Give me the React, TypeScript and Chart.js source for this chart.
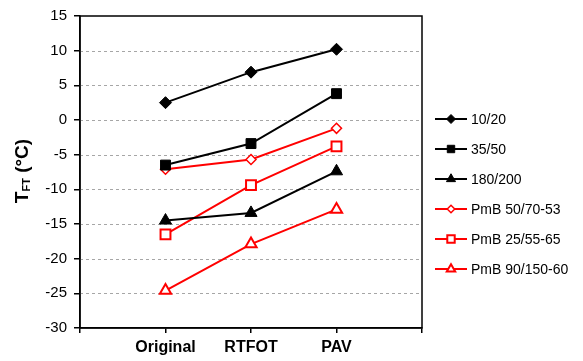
import React, { useEffect, useRef } from "react";
import { Chart, registerables } from "chart.js";
import { drawPoint } from "chart.js/helpers";

Chart.register(...registerables);

const categories = ["Original", "RTFOT", "PAV"];
const yTicks = [-30, -25, -20, -15, -10, -5, 0, 5, 10, 15];

const s1020 = [2.5, 6.9, 10.2];
const s3550 = [-6.5, -3.4, 3.8];
const s180200 = [-14.5, -13.4, -7.4];
const pmb5070 = [-7.1, -5.7, -1.2];
const pmb2555 = [-16.5, -9.4, -3.8];
const pmb90150 = [-24.6, -17.9, -12.9];

const seriesNames = ["10/20", "35/50", "180/200", "PmB 50/70-53", "PmB 25/55-65", "PmB 90/150-60"];

const FONT = "'Liberation Sans', Arial, sans-serif";

function pts(vals: number[]) {
  return vals.map((v, i) => ({ x: i + 1, y: v }));
}

function ds(label: string, vals: number[], color: string, style: string, radius: number, filled: boolean, bw: number) {
  return {
    label,
    data: pts(vals),
    borderColor: color,
    backgroundColor: filled ? color : "#ffffff",
    pointBackgroundColor: filled ? color : "#ffffff",
    pointBorderColor: color,
    pointStyle: style,
    pointRadius: radius,
    pointBorderWidth: bw,
    borderWidth: 2,
    fill: false,
    tension: 0,
  };
}

const framePlugin = {
  id: "frame",
  beforeDatasetsDraw(chart: any) {
    const { ctx, chartArea } = chart;
    const y = chart.scales.y;
    ctx.save();
    ctx.strokeStyle = "#a6a6a6";
    ctx.lineWidth = 1;
    ctx.setLineDash([3, 3]);
    yTicks.forEach((t) => {
      if (t === yTicks[0] || t === yTicks[yTicks.length - 1]) return;
      const py = Math.round(y.getPixelForValue(t)) + 0.5;
      ctx.beginPath();
      ctx.moveTo(chartArea.left, py);
      ctx.lineTo(chartArea.right, py);
      ctx.stroke();
    });
    ctx.setLineDash([]);
    ctx.strokeStyle = "#000";
    ctx.lineWidth = 1.5;
    ctx.strokeRect(chartArea.left, chartArea.top, chartArea.right - chartArea.left, chartArea.bottom - chartArea.top);
    ctx.restore();
  },
  afterDraw(chart: any) {
    const { ctx, chartArea } = chart;
    ctx.save();
    // y-axis title with subscript
    const cx = 28;
    const cy = (chartArea.top + chartArea.bottom) / 2 - 1;
    ctx.translate(cx, cy);
    ctx.rotate(-Math.PI / 2);
    ctx.fillStyle = "#000";
    ctx.textBaseline = "alphabetic";
    ctx.textAlign = "left";
    const big = "bold 19px " + FONT;
    const small = "bold 11px " + FONT;
    ctx.font = big;
    const wT = ctx.measureText("T").width;
    ctx.font = small;
    const wFT = ctx.measureText("FT").width;
    ctx.font = big;
    const wRest = ctx.measureText(" (°C)").width;
    const total = wT + wFT + wRest;
    let x0 = -total / 2;
    ctx.font = big;
    ctx.fillText("T", x0, 0);
    x0 += wT;
    ctx.font = small;
    ctx.fillText("FT", x0, 2);
    x0 += wFT;
    ctx.font = big;
    ctx.fillText(" (°C)", x0, 0);
    ctx.restore();

    // legend
    ctx.save();
    const lx0 = chartArea.right + 13;
    const lx1 = lx0 + 32;
    const ly0 = chartArea.top + 103;
    ctx.font = "14px " + FONT;
    ctx.textBaseline = "middle";
    ctx.textAlign = "left";
    chart.data.datasets.forEach((d: any, i: number) => {
      const yy = ly0 + i * 30;
      ctx.strokeStyle = d.borderColor;
      ctx.lineWidth = 2;
      ctx.beginPath();
      ctx.moveTo(lx0, yy);
      ctx.lineTo(lx1, yy);
      ctx.stroke();
      ctx.fillStyle = d.pointBackgroundColor;
      ctx.strokeStyle = d.pointBorderColor;
      ctx.lineWidth = d.pointBorderWidth;
      drawPoint(ctx, { pointStyle: d.pointStyle, radius: d.pointRadius * 0.75, rotation: 0, borderWidth: d.pointBorderWidth } as any, (lx0 + lx1) / 2, yy);
      ctx.fillStyle = "#000";
      ctx.fillText(d.label, lx1 + 4, yy + 1);
    });
    ctx.restore();
  },
};

export default function App() {
  const ref = useRef<HTMLCanvasElement>(null);
  useEffect(() => {
    if (!ref.current) return;
    const chart = new Chart(ref.current, {
      type: "line",
      data: {
        datasets: [
          ds(seriesNames[0], s1020, "#000000", "rectRot", 6, true, 1),
          ds(seriesNames[1], s3550, "#000000", "rect", 7, true, 1),
          ds(seriesNames[2], s180200, "#000000", "triangle", 7, true, 1),
          ds(seriesNames[3], pmb5070, "#ff0000", "rectRot", 5, false, 1.5),
          ds(seriesNames[4], pmb2555, "#ff0000", "rect", 7, false, 2),
          ds(seriesNames[5], pmb90150, "#ff0000", "triangle", 6.5, false, 2),
        ] as any,
      },
      options: {
        animation: false,
        responsive: false,
        layout: { padding: { top: 15, right: 161, left: 0, bottom: 0 } },
        plugins: { legend: { display: false }, tooltip: { enabled: false } },
        scales: {
          x: {
            type: "linear",
            min: 0,
            max: 4,
            afterFit: (s: any) => { s.height = 33; },
            afterBuildTicks: (s: any) => { s.ticks = [0, 1, 2, 3, 4].map((v) => ({ value: v })); },
            ticks: {
              stepSize: 1,
              autoSkip: false,
              maxRotation: 0,
              color: "#000",
              padding: 5,
              font: { family: FONT, size: 16, weight: "bold" },
              callback: (v: any) => categories[Number(v) - 1] ?? "",
            },
            grid: { drawOnChartArea: false, drawTicks: true, tickLength: 5, color: "#000", lineWidth: 1.5 },
            border: { display: true, color: "#000", width: 1.5 },
          },
          y: {
            type: "linear",
            min: yTicks[0],
            max: yTicks[yTicks.length - 1],
            afterFit: (s: any) => { s.width = 80; },
            ticks: {
              stepSize: 5,
              color: "#000",
              padding: 7,
              font: { family: FONT, size: 15 },
            },
            grid: { drawOnChartArea: false, drawTicks: true, tickLength: 6, color: "#000", lineWidth: 1.5 },
            border: { display: true, color: "#000", width: 1.5 },
          },
        },
      },
      plugins: [framePlugin],
    });
    return () => chart.destroy();
  }, []);
  return (
    <div style={{ position: "fixed", left: 0, top: 0, width: 583, height: 361, background: "#fff" }}>
      <canvas ref={ref} width={583} height={361} style={{ display: "block" }} />
    </div>
  );
}
